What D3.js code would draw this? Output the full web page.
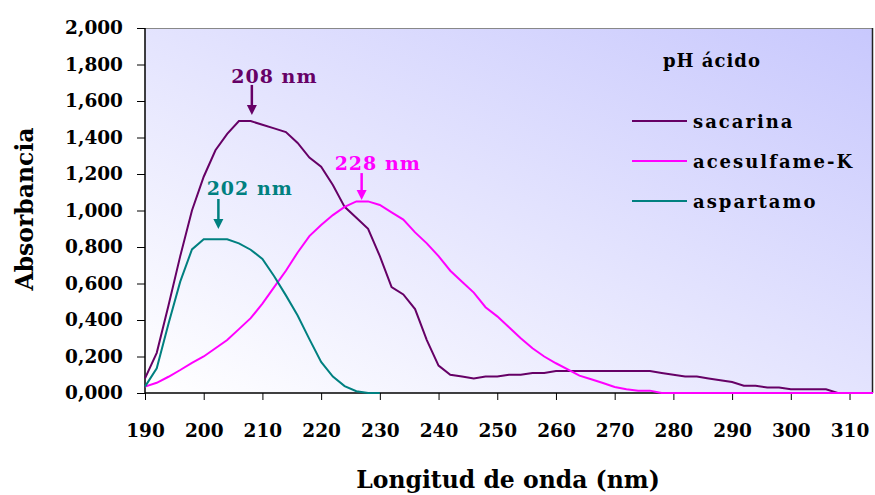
<!DOCTYPE html>
<html>
<head>
<meta charset="utf-8">
<script src="https://cdn.jsdelivr.net/npm/d3@7"></script>
<style>
  html, body { margin: 0; padding: 0; background: #ffffff; }
  svg { display: block; }
  text { font-family: "DejaVu Serif", "Liberation Serif", serif; font-weight: bold; }
</style>
</head>
<body>
<svg id="chart" width="875" height="495"></svg>
<script>
// Wavelengths (nm), sampled every 2 nm
const wavelengths = [190,192,194,196,198,200,202,204,206,208,210,212,214,216,218,220,222,224,226,228,
  230,232,234,236,238,240,242,244,246,248,250,252,254,256,258,260,262,264,266,268,
  270,272,274,276,278,280,282,284,286,288,290,292,294,296,298,300,302,304,306,308,
  310,312,314];

// Absorbance, sacarina
const sacarina = [0.08,0.22,0.48,0.75,1.00,1.185,1.33,1.42,1.49,1.49,1.47,1.45,1.43,1.37,1.29,1.24,1.14,1.02,0.96,0.90,
  0.75,0.58,0.54,0.46,0.29,0.15,0.10,0.09,0.08,0.09,0.09,0.10,0.10,0.11,0.11,0.12,0.12,0.12,0.12,0.12,
  0.12,0.12,0.12,0.12,0.11,0.10,0.09,0.09,0.08,0.07,0.06,0.04,0.04,0.03,0.03,0.02,0.02,0.02,0.02,0.00,
  0.00,0.00,0.00];

// Absorbance, acesulfame-K
const acesulfame = [0.035,0.056,0.089,0.126,0.165,0.20,0.245,0.29,0.35,0.41,0.49,0.58,0.67,0.77,0.86,0.92,0.975,1.02,1.05,1.05,
  1.03,0.99,0.95,0.88,0.82,0.75,0.67,0.61,0.55,0.47,0.42,0.36,0.30,0.245,0.20,0.163,0.13,0.095,0.075,0.055,
  0.033,0.02,0.013,0.013,0,0,0,0,0,0,0,0,0,0,0,0,0,0,0,0,
  0,0,0];

// Absorbance, aspartamo (measured up to 230 nm)
const aspartamo = [0.035,0.135,0.38,0.61,0.787,0.842,0.842,0.842,0.82,0.785,0.735,0.64,0.535,0.425,0.295,0.17,0.09,0.038,0.01,0,
  0];

const seriesNames = ["sacarina", "acesulfame-K", "aspartamo"];
const seriesColors = ["#660066", "#ff00ff", "#008080"];
const seriesValues = [sacarina, acesulfame, aspartamo];

const xTicks = [190,200,210,220,230,240,250,260,270,280,290,300,310];
const yTicks = [0,0.2,0.4,0.6,0.8,1.0,1.2,1.4,1.6,1.8,2.0];

// Peak annotations: label, text anchor point (nm, abs), arrow x (nm), arrow top and tip (abs)
const peakLabels = ["208 nm", "202 nm", "228 nm"];
const peakLabelNm = [204.7, 200.5, 222.3];
const peakLabelAbs = [1.70, 1.085, 1.222];
const peakArrowNm = [208.2, 202.5, 226.9];
const peakArrowTop = [1.688, 1.063, 1.205];
const peakArrowTip = [1.523, 0.899, 1.058];
const peakColors = ["#660066", "#008080", "#ff00ff"];

const svg = d3.select("#chart");
const plotLeft = 145, plotRight = 873, plotTop = 28, plotBottom = 393;

const x = d3.scaleLinear().domain([190, 314]).range([plotLeft, plotRight]);
const y = d3.scaleLinear().domain([0, 2]).range([plotBottom, plotTop]);

// Plot background gradient
const defs = svg.append("defs");
const grad = defs.append("linearGradient").attr("id", "plotBg")
  .attr("x1", 0).attr("y1", 1).attr("x2", 1).attr("y2", 0);
grad.append("stop").attr("offset", "0%").attr("stop-color", "#ffffff");
grad.append("stop").attr("offset", "100%").attr("stop-color", "#c8c8fd");

svg.append("rect")
  .attr("x", plotLeft).attr("y", plotTop)
  .attr("width", plotRight - plotLeft).attr("height", plotBottom - plotTop)
  .attr("fill", "url(#plotBg)");

// Frame: top and right edges
svg.append("line").attr("x1", plotLeft).attr("x2", plotRight).attr("y1", plotTop + 0.5).attr("y2", plotTop + 0.5)
  .attr("stroke", "#888888").attr("stroke-width", 1);
svg.append("line").attr("x1", plotRight - 0.5).attr("x2", plotRight - 0.5).attr("y1", plotTop).attr("y2", plotBottom)
  .attr("stroke", "#222222").attr("stroke-width", 1.5);

// Axes
const fmtY = v => d3.format(".3f")(v).replace(".", ",");
const yAxis = svg.append("g").attr("transform", `translate(${plotLeft},0)`)
  .call(d3.axisLeft(y).tickValues(yTicks).tickFormat(fmtY).tickSize(8).tickPadding(14));
const xAxis = svg.append("g").attr("transform", `translate(0,${plotBottom})`)
  .call(d3.axisBottom(x).tickValues(xTicks).tickFormat(d3.format("d")).tickSize(7).tickPadding(24));

[xAxis, yAxis].forEach(g => {
  g.select(".domain").attr("stroke", "#000").attr("stroke-width", 1.5);
  g.selectAll(".tick line").attr("stroke", "#000").attr("stroke-width", 1);
  g.selectAll(".tick text")
    .attr("fill", "#000")
    .style("font-family", '"DejaVu Serif", serif')
    .style("font-weight", "bold")
    .style("font-size", "18.5px");
});
xAxis.select(".domain").attr("d", `M${plotLeft},0H${plotRight}`);
yAxis.select(".domain").attr("d", `M0,${plotBottom}V${plotTop}`);

// Axis titles
svg.append("text")
  .attr("transform", `translate(33,209) rotate(-90)`)
  .attr("text-anchor", "middle")
  .style("font-size", "23.5px")
  .attr("fill", "#000")
  .text("Absorbancia");

svg.append("text")
  .attr("x", 508).attr("y", 488)
  .attr("text-anchor", "middle")
  .style("font-size", "23.5px")
  .attr("fill", "#000")
  .text("Longitud de onda (nm)");

// Spectra
const line = d3.line().x(d => x(d[0])).y(d => y(d[1]));
seriesValues.forEach((vals, i) => {
  const pts = vals.map((v, k) => [wavelengths[k], v]);
  svg.append("path")
    .datum(pts)
    .attr("d", line)
    .attr("fill", "none")
    .attr("stroke", seriesColors[i])
    .attr("stroke-width", 2)
    .attr("stroke-linejoin", "miter");
});

// Peak annotations
peakLabels.forEach((lab, i) => {
  svg.append("text")
    .attr("x", x(peakLabelNm[i])).attr("y", y(peakLabelAbs[i]))
    .attr("fill", peakColors[i])
    .style("font-size", "19px")
    .style("letter-spacing", "1px")
    .text(lab);
  const ax = x(peakArrowNm[i]);
  const yTop = y(peakArrowTop[i]);
  const yTip = y(peakArrowTip[i]);
  svg.append("line")
    .attr("x1", ax).attr("x2", ax).attr("y1", yTop).attr("y2", yTip - 8)
    .attr("stroke", peakColors[i]).attr("stroke-width", 2.5);
  svg.append("path")
    .attr("d", `M${ax - 5},${yTip - 10}L${ax + 5},${yTip - 10}L${ax},${yTip}Z`)
    .attr("fill", peakColors[i]);
});

// Legend
const legend = svg.append("g");
legend.append("text")
  .attr("x", 663).attr("y", 67)
  .attr("fill", "#000")
  .style("font-size", "18px")
  .style("letter-spacing", "1px")
  .text("pH ácido");

const legendY = [121, 161, 201];
seriesNames.forEach((name, i) => {
  legend.append("line")
    .attr("x1", 632).attr("x2", 687)
    .attr("y1", legendY[i]).attr("y2", legendY[i])
    .attr("stroke", seriesColors[i]).attr("stroke-width", 2);
  legend.append("text")
    .attr("x", 693).attr("y", legendY[i] + 7)
    .attr("fill", "#000")
    .style("font-size", "18px")
    .style("letter-spacing", "2px")
    .text(name);
});
</script>
</body>
</html>
